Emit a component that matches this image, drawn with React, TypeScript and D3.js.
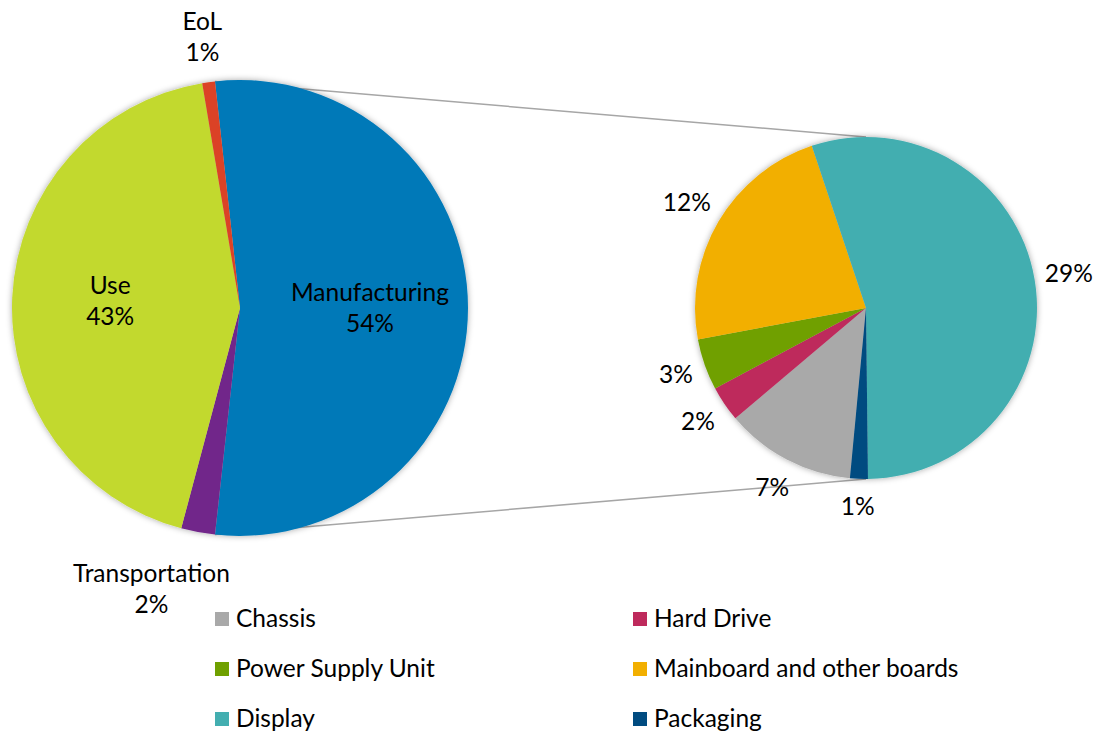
import React from "react";
import * as d3 from "d3";

// main pie: the first slice is the sum of the breakdown below
const mainNames = ["Manufacturing", "Transportation", "Use", "EoL"];
const otherValues = [2.4, 43.2, 0.9]; // Transportation, Use, EoL
const mainColors = ["#0079B8", "#71288A", "#C2D92E", "#DB4325"];

// breakdown of manufacturing (second pie + legend)
const detailNames = [
  "Chassis",
  "Hard Drive",
  "Power Supply Unit",
  "Mainboard and other boards",
  "Display",
  "Packaging",
];
const detailValues = [6.6, 1.8, 2.6, 12.2, 29.4, 0.9];
const detailColors = ["#A9A9A9", "#BE2A5C", "#6FA000", "#F2AF00", "#43AEB0", "#004B80"];

const W = 1108;
const H = 732;
const FONT = "Lato, 'Open Sans', sans-serif";
const FS = 24.5;
const LINE = 31;

const main = { cx: 240, cy: 308, r: 228 };
const second = { cx: 866, cy: 308, r: 171 };
const SECOND_START = (185.4 * Math.PI) / 180;

type Slice = d3.PieArcDatum<number>;

const pct = (v: number, total: number) => Math.round((v / total) * 100 + 1e-6) + "%";

// place a label box just outside the pie edge, along the slice mid angle
function outsidePos(cx: number, cy: number, r: number, a: number, lines: string[]) {
  const w = d3.max(lines, (l) => l.length * 23 * 0.52) as number;
  const h = lines.length * LINE - 6;
  const s = Math.sin(a);
  const c = Math.cos(a);
  const d = r + 15 + Math.abs(s) * (w / 2) + Math.abs(c) * (h / 2);
  return [cx + d * s, cy - d * c];
}

function Label({ x, y, lines }: { x: number; y: number; lines: string[] }) {
  const first = y - ((lines.length - 1) * LINE) / 2 + 8;
  return (
    <text textAnchor="middle" fontFamily={FONT} fontSize={FS} fill="#000">
      {lines.map((l, i) => (
        <tspan key={i} x={x} y={first + i * LINE}>
          {l}
        </tspan>
      ))}
    </text>
  );
}

export default function App() {
  const mainValues = [d3.sum(detailValues), ...otherValues];
  const total = d3.sum(mainValues);
  const manuShare = mainValues[0] / total;

  // split slice is centred on 3 o'clock
  const mainStart = Math.PI / 2 - manuShare * Math.PI;
  const mainArcs = d3
    .pie<number>()
    .sort(null)
    .value((d) => d)
    .startAngle(mainStart)
    .endAngle(mainStart + 2 * Math.PI)(mainValues);

  const detailArcs = d3
    .pie<number>()
    .sort(null)
    .value((d) => d)
    .startAngle(SECOND_START)
    .endAngle(SECOND_START + 2 * Math.PI)(detailValues);

  const arcMain = d3.arc<Slice>().innerRadius(0).outerRadius(main.r);
  const arcSecond = d3.arc<Slice>().innerRadius(0).outerRadius(second.r);

  const manu = mainArcs[0];
  const p0 = [main.cx + main.r * Math.sin(manu.startAngle), main.cy - main.r * Math.cos(manu.startAngle)];
  const p1 = [main.cx + main.r * Math.sin(manu.endAngle), main.cy - main.r * Math.cos(manu.endAngle)];

  const labelShift: Record<string, number> = { Transportation: 0.12 };

  return (
    <svg width={W} height={H} style={{ position: "absolute", left: 0, top: 0, background: "#fff" }}>
      <defs>
        <filter id="shadow" x="-10%" y="-10%" width="120%" height="120%">
          <feDropShadow dx="0" dy="0" stdDeviation="3" floodColor="#000" floodOpacity="0.35" />
        </filter>
      </defs>

      {/* connector lines */}
      <g stroke="#A6A6A6" strokeWidth={1.5}>
        <line x1={p0[0]} y1={p0[1]} x2={second.cx} y2={second.cy - second.r} />
        <line x1={p1[0]} y1={p1[1]} x2={second.cx} y2={second.cy + second.r} />
      </g>

      <g transform={`translate(${main.cx},${main.cy})`} filter="url(#shadow)">
        {mainArcs.map((d, i) => (
          <path key={i} d={arcMain(d) as string} fill={mainColors[i]} />
        ))}
      </g>
      <g transform={`translate(${second.cx},${second.cy})`} filter="url(#shadow)">
        {detailArcs.map((d, i) => (
          <path key={i} d={arcSecond(d) as string} fill={detailColors[i]} />
        ))}
      </g>

      {/* main pie labels */}
      {mainArcs.map((d, i) => {
        const name = mainNames[i];
        const lines = [name, pct(d.value, total)];
        const mid = (d.startAngle + d.endAngle) / 2 + (labelShift[name] || 0);
        let x, y;
        if (d.value / total > 0.05) {
          const rr = main.r * 0.57;
          x = main.cx + rr * Math.sin(mid);
          y = main.cy - rr * Math.cos(mid);
        } else {
          [x, y] = outsidePos(main.cx, main.cy, main.r, mid, lines);
        }
        return <Label key={i} x={x} y={y} lines={lines} />;
      })}

      {/* second pie labels */}
      {detailArcs.map((d, i) => {
        const lines = [pct(d.value, total)];
        const mid = (d.startAngle + d.endAngle) / 2;
        const [x, y] = outsidePos(second.cx, second.cy, second.r, mid, lines);
        return <Label key={i} x={x} y={y} lines={lines} />;
      })}

      {/* legend */}
      {detailNames.map((n, i) => {
        const x = [215, 633][i % 2];
        const y = 612 + Math.floor(i / 2) * 50;
        return (
          <g key={n}>
            <rect x={x} y={y} width={14} height={14} fill={detailColors[i]} />
            <text x={x + 21} y={y + 15} fontFamily={FONT} fontSize={FS} fill="#000">
              {n}
            </text>
          </g>
        );
      })}
    </svg>
  );
}
